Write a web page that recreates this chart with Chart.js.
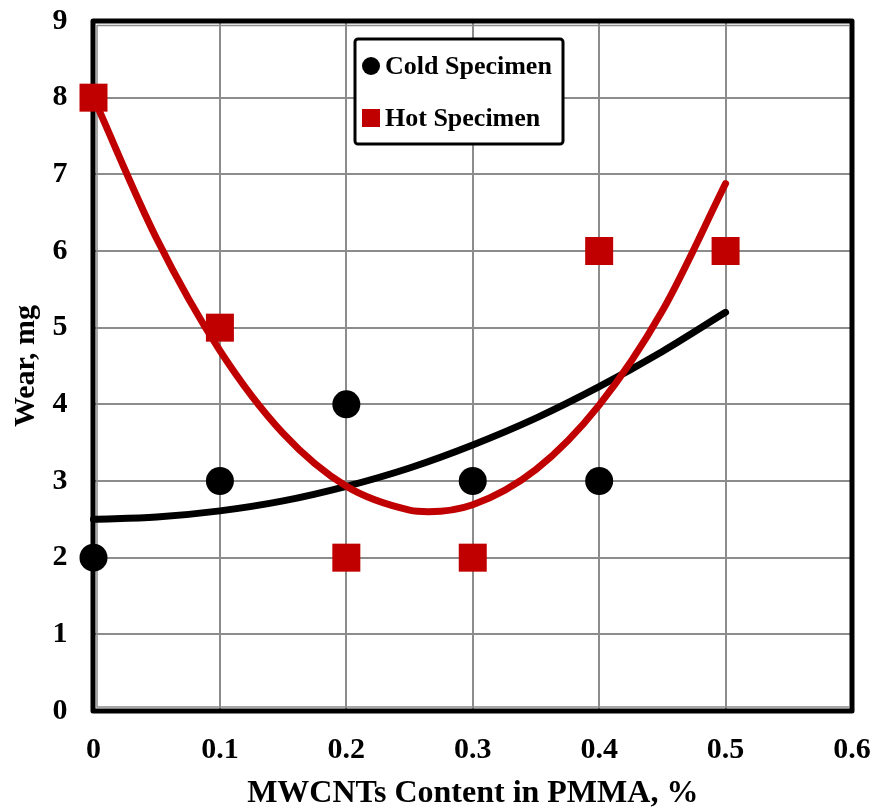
<!DOCTYPE html>
<html>
<head>
<meta charset="utf-8">
<script src="https://cdn.jsdelivr.net/npm/chart.js@4/dist/chart.umd.min.js"></script>
<style>
  html, body { margin: 0; padding: 0; background: #fff; }
  #wrap { width: 875px; height: 810px; position: relative; }
</style>
</head>
<body>
<div id="wrap"><canvas id="c" width="875" height="810"></canvas></div>
<script>
// ---- data ----
const contentX = [0, 0.1, 0.2, 0.3, 0.4, 0.5];
const coldWear = [2, 3, 4, 3, 3];
const hotWear = [8, 5, 2, 2, 6, 6];
const coldTrendX = [0, 0.05, 0.1, 0.15, 0.2, 0.25, 0.3, 0.35, 0.4, 0.45, 0.5];
const coldTrend = [2.5, 2.53, 2.61, 2.74, 2.93, 3.17, 3.47, 3.82, 4.23, 4.69, 5.2];
const hotTrendX = [0, 0.05, 0.1, 0.15, 0.2, 0.25, 0.265, 0.3, 0.35, 0.4, 0.45, 0.5];
const hotTrend = [8.0, 6.16, 4.7, 3.62, 2.93, 2.62, 2.6, 2.69, 3.15, 3.99, 5.22, 6.88];
const xTickLabels = ['0', '0.1', '0.2', '0.3', '0.4', '0.5', '0.6'];
const yTickLabels = ['0', '1', '2', '3', '4', '5', '6', '7', '8', '9'];
const seriesNames = ['Cold Specimen', 'Hot Specimen'];
const axisTitles = { x: 'MWCNTs Content in PMMA, %', y: 'Wear, mg' };

const RED = '#C00000';
const FONT = "'Liberation Serif', 'Times New Roman', serif";

const toPts = (xs, ys) => ys.map((y, i) => ({ x: xs[i], y }));

const framePlugin = {
  id: 'frame',
  beforeDatasetsDraw(chart) {
    const { ctx, chartArea: a } = chart;
    ctx.save();
    ctx.strokeStyle = '#8c8c8c';
    ctx.lineWidth = 1.5;
    ctx.beginPath();
    ctx.moveTo(a.left + 3.5, a.top + 4);
    ctx.lineTo(a.left + 3.5, a.bottom - 4);
    ctx.lineTo(a.right - 3, a.bottom - 4);
    ctx.moveTo(a.left + 3.5, a.top + 4.5);
    ctx.lineTo(a.right - 3, a.top + 4.5);
    ctx.stroke();
    ctx.strokeStyle = '#000';
    ctx.lineWidth = 5;
    ctx.lineJoin = 'round';
    ctx.strokeRect(a.left - 0.5, a.top, a.right - a.left + 0.5, a.bottom - a.top);
    ctx.restore();
  }
};

const legendPlugin = {
  id: 'boxLegend',
  afterDraw(chart) {
    const { ctx } = chart;
    ctx.save();
    const bx = 355, by = 39, bw = 208, bh = 105;
    ctx.strokeStyle = '#000';
    ctx.lineWidth = 3;
    ctx.fillStyle = '#fff';
    ctx.beginPath();
    ctx.roundRect(bx, by, bw, bh, 3);
    ctx.fill();
    ctx.stroke();
    ctx.font = 'bold 26px ' + FONT;
    ctx.textBaseline = 'middle';
    ctx.textAlign = 'left';
    ctx.fillStyle = '#000';
    ctx.beginPath();
    ctx.arc(371, 66, 9, 0, Math.PI * 2);
    ctx.fill();
    ctx.fillText(seriesNames[0], 385, 67);
    ctx.fillStyle = RED;
    ctx.fillRect(362, 109, 18, 18);
    ctx.fillStyle = '#000';
    ctx.fillText(seriesNames[1], 385, 119);
    ctx.restore();
  }
};

new Chart(document.getElementById('c'), {
  type: 'scatter',
  data: {
    datasets: [
      {
        label: seriesNames[1] + ' trend',
        data: toPts(hotTrendX, hotTrend),
        showLine: true,
        borderColor: RED,
        borderWidth: 7,
        borderCapStyle: 'round',
        pointRadius: 0,
        cubicInterpolationMode: 'monotone',
        clip: false,
        order: 3
      },
      {
        label: seriesNames[0] + ' trend',
        data: toPts(coldTrendX, coldTrend),
        showLine: true,
        borderColor: '#000',
        borderWidth: 7,
        borderCapStyle: 'round',
        pointRadius: 0,
        cubicInterpolationMode: 'monotone',
        clip: false,
        order: 4
      },
      {
        label: seriesNames[0],
        data: toPts(contentX, coldWear),
        pointStyle: 'circle',
        pointRadius: 14,
        pointBackgroundColor: '#000',
        pointBorderWidth: 0,
        borderColor: '#000',
        clip: false,
        order: 2
      },
      {
        label: seriesNames[1],
        data: toPts(contentX, hotWear),
        pointStyle: 'rect',
        pointRadius: 19.8,
        pointBackgroundColor: RED,
        pointBorderWidth: 0,
        borderColor: RED,
        clip: false,
        order: 1
      }
    ]
  },
  options: {
    responsive: false,
    animation: false,
    events: [],
    layout: { padding: { top: 21, right: 23, left: 0, bottom: 0 } },
    plugins: {
      legend: { display: false },
      tooltip: { enabled: false }
    },
    scales: {
      x: {
        type: 'linear',
        min: 0, max: 0.6,
        afterFit(s) { s.height = 99; s.paddingRight = 0; s.paddingLeft = 0; },
        afterBuildTicks(s) { s.ticks = xTickLabels.map(v => ({ value: parseFloat(v) })); },
        ticks: {
          callback: (v, i) => xTickLabels[i],
          color: '#000',
          font: { family: FONT, size: 30, weight: 'bold' },
          padding: 21,
          maxRotation: 0,
          autoSkip: false
        },
        grid: { color: '#8c8c8c', lineWidth: 2, drawTicks: false },
        border: { display: false },
        title: {
          display: true,
          text: axisTitles.x,
          color: '#000',
          font: { family: FONT, size: 32, weight: 'bold' },
          padding: { top: 0, bottom: -3 }
        }
      },
      y: {
        type: 'linear',
        min: 0, max: 9,
        afterFit(s) { s.width = 93.5; s.paddingTop = 0; s.paddingBottom = 0; },
        afterBuildTicks(s) { s.ticks = yTickLabels.map(v => ({ value: parseFloat(v) })); },
        ticks: {
          callback: (v, i) => yTickLabels[i],
          color: '#000',
          font: { family: FONT, size: 30, weight: 'bold' },
          padding: 26,
          autoSkip: false
        },
        grid: { color: '#8c8c8c', lineWidth: 2, drawTicks: false },
        border: { display: false },
        title: {
          display: true,
          text: axisTitles.y,
          color: '#000',
          font: { family: FONT, size: 30, weight: 'bold' },
          padding: { top: 8, bottom: 0 }
        }
      }
    }
  },
  plugins: [framePlugin, legendPlugin]
});
</script>
</body>
</html>
